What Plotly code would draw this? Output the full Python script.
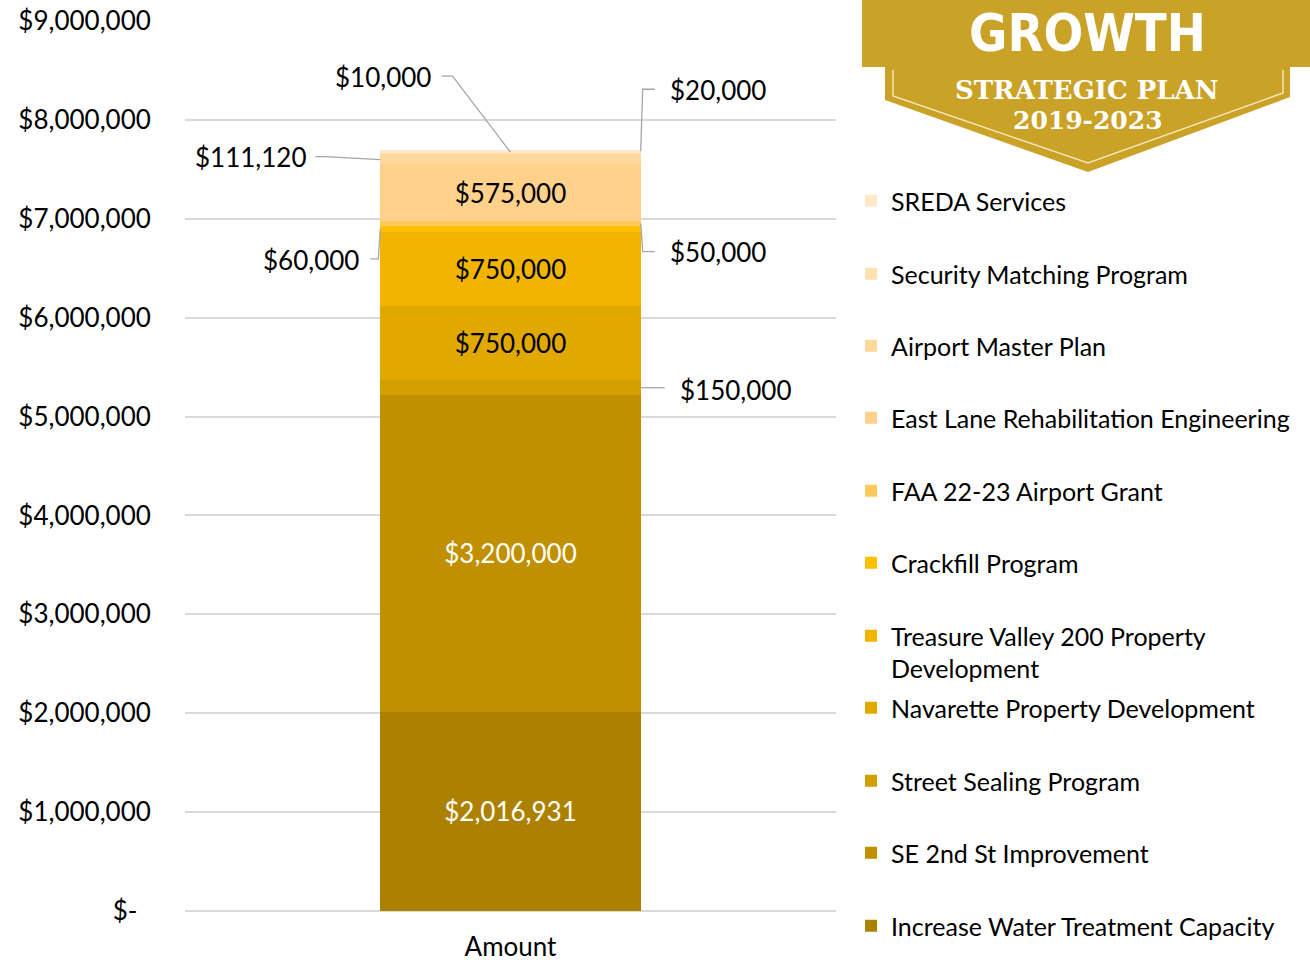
import plotly.graph_objects as go

# ---------------- data ----------------
categories = ["Amount"]
series_names = [
    "Increase Water Treatment Capacity",
    "SE 2nd St Improvement",
    "Street Sealing Program",
    "Navarette Property Development",
    "Treasure Valley 200 Property<br>Development",
    "Crackfill Program",
    "FAA 22-23 Airport Grant",
    "East Lane Rehabilitation Engineering",
    "Airport Master Plan",
    "Security Matching Program",
    "SREDA Services",
]
series_values = [2016931, 3200000, 150000, 750000, 750000, 60000, 50000, 575000, 111120, 10000, 20000]
ytick_vals = [0, 1e6, 2e6, 3e6, 4e6, 5e6, 6e6, 7e6, 8e6, 9e6]
ytick_text = ["$-\u00a0\u00a0", "$1,000,000", "$2,000,000", "$3,000,000", "$4,000,000",
              "$5,000,000", "$6,000,000", "$7,000,000", "$8,000,000", "$9,000,000"]

# ---------------- styles ----------------
colors = ["#AD8100", "#C09000", "#D29E00", "#E1A800", "#F1B500", "#FFC000",
          "#FFC95E", "#FFD18B", "#FFD89C", "#FFE0B0", "#FFE8C9"]
inside_text_color = ["white", "white", None, "black", "black", None, None, "black", None, None, None]
FONT = "Lato, 'Open Sans', sans-serif"

W, H = 1310, 962
L, R, T, B = 185, 836, 21, 911


def px_x(px):
    return (px - L) / (R - L)


def px_y(py):
    return (B - py) / (B - T)


fig = go.Figure()

legend_centers = [926, 853, 781, 708, 652, 563, 491, 418, 346, 274, 201]
layout_legends = {}
for i, (name, val, col) in enumerate(zip(series_names, series_values, colors)):
    lname = "legend" if i == 0 else f"legend{i + 1}"
    tc = inside_text_color[i]
    fig.add_trace(go.Bar(
        x=categories, y=[val], name=name, marker=dict(color=col, line=dict(width=0)),
        width=0.4,
        texttemplate="$%{y:,.0f}" if tc else "",
        textposition="inside" if tc else "none",
        insidetextanchor="middle", textangle=0,
        textfont=dict(family=FONT, size=26, color=tc or "black"),
        legend=lname, showlegend=True,
    ))
    layout_legends[lname] = dict(
        x=px_x(851), y=px_y(legend_centers[i]), xanchor="left", yanchor="middle",
        bgcolor="rgba(0,0,0,0)", font=dict(family=FONT, size=25, color="black"),
        itemwidth=30, valign="top", itemclick=False,
    )

# cumulative positions from data
cum_top = []
s = 0
for v in series_values:
    s += v
    cum_top.append(s)
cum_mid = [t - v / 2 for t, v in zip(cum_top, series_values)]

# outside labels: (index, x anchor, use top or mid, xshift, yshift, leader path)
outside = [
    (2, 0.2, "mid", 95, -2, "M0,0 L24,0"),
    (5, -0.2, "mid", -69, -31, "M0,0 L-2,-30 L-10,-30"),
    (6, 0.2, "mid", 77, -28, "M0,0 L2,-28 L14,-28"),
    (8, -0.2, "mid", -130, 2, "M0,-1 L-55,2 L-65,2"),
    (9, 0.0, "top", -128, 75, "M0,0 L-58,76 L-69,76"),
    (10, 0.2, "top", 77, 60, "M0,-1 L2,61 L14,61"),
]
annotations = []
shapes = []
for idx, xa, mode, xs, ys, path in outside:
    ya = cum_top[idx] if mode == "top" else cum_mid[idx]
    annotations.append(dict(
        x=xa, y=ya, xref="x", yref="y", xshift=xs, yshift=ys, showarrow=False,
        xanchor="center", yanchor="middle",
        text="$" + f"{series_values[idx]:,}", font=dict(family=FONT, size=26, color="black"),
    ))
    shapes.append(dict(
        type="path", xref="x", yref="y", xsizemode="pixel", ysizemode="pixel",
        xanchor=xa, yanchor=ya, path=path, line=dict(color="#A6A6A6", width=1.3),
    ))

# ---------------- logo (decoration) ----------------
gold = "#C9A227"


def ppath(points, close=True):
    d = "M" + " L".join(f"{px_x(x):.5f},{px_y(y):.5f}" for x, y in points)
    return d + (" Z" if close else "")


shapes.append(dict(type="rect", xref="paper", yref="paper", x0=px_x(862), x1=px_x(1312),
                   y0=px_y(67), y1=px_y(-2), fillcolor=gold, line=dict(width=0), layer="below"))
shapes.append(dict(type="path", xref="paper", yref="paper",
                   path=ppath([(885, 67), (885, 100), (1088, 172), (1290, 97), (1290, 67)]),
                   fillcolor=gold, line=dict(width=0), layer="below"))
shapes.append(dict(type="path", xref="paper", yref="paper",
                   path=ppath([(893, 70), (893, 96), (1088, 163), (1283, 93), (1283, 70)], close=False),
                   fillcolor="rgba(0,0,0,0)", line=dict(color="#F4E6B8", width=1.5), layer="below"))
annotations += [
    dict(x=px_x(1087), y=px_y(33), xref="paper", yref="paper", showarrow=False, text="<b>GROWTH</b>",
         xanchor="center", yanchor="middle",
         font=dict(family="'DejaVu Sans Condensed', 'Liberation Sans Narrow', sans-serif", size=52, color="white")),
    dict(x=px_x(1087), y=px_y(90), xref="paper", yref="paper", showarrow=False, text="<b>STRATEGIC PLAN</b>",
         xanchor="center", yanchor="middle",
         font=dict(family="'DejaVu Serif', serif", size=26, color="white")),
    dict(x=px_x(1088), y=px_y(120), xref="paper", yref="paper", showarrow=False, text="<b>2019-2023</b>",
         xanchor="center", yanchor="middle",
         font=dict(family="'DejaVu Serif', serif", size=25, color="white")),
]

fig.update_layout(
    width=W, height=H,
    margin=dict(l=L, r=W - R, t=T, b=H - B, pad=0, autoexpand=False),
    plot_bgcolor="white", paper_bgcolor="white",
    barmode="stack", showlegend=True,
    font=dict(family=FONT, size=26, color="black"),
    xaxis=dict(showgrid=False, showline=False, zeroline=False, ticks="outside", ticklen=13,
               tickcolor="rgba(0,0,0,0)", tickfont=dict(family=FONT, size=26, color="black")),
    yaxis=dict(range=[0, 9e6], tickvals=ytick_vals, ticktext=ytick_text, showgrid=True,
               gridcolor="#D9D9D9", gridwidth=1.5, zeroline=True, zerolinecolor="#D9D9D9",
               zerolinewidth=1.5, showline=False, ticks="outside", ticklen=28,
               tickcolor="rgba(0,0,0,0)", tickfont=dict(family=FONT, size=26, color="black")),
    annotations=annotations, shapes=shapes,
    **layout_legends,
)

fig.write_html("out.html", config={"displayModeBar": False},
               post_script="document.body.style.margin='0px';")
